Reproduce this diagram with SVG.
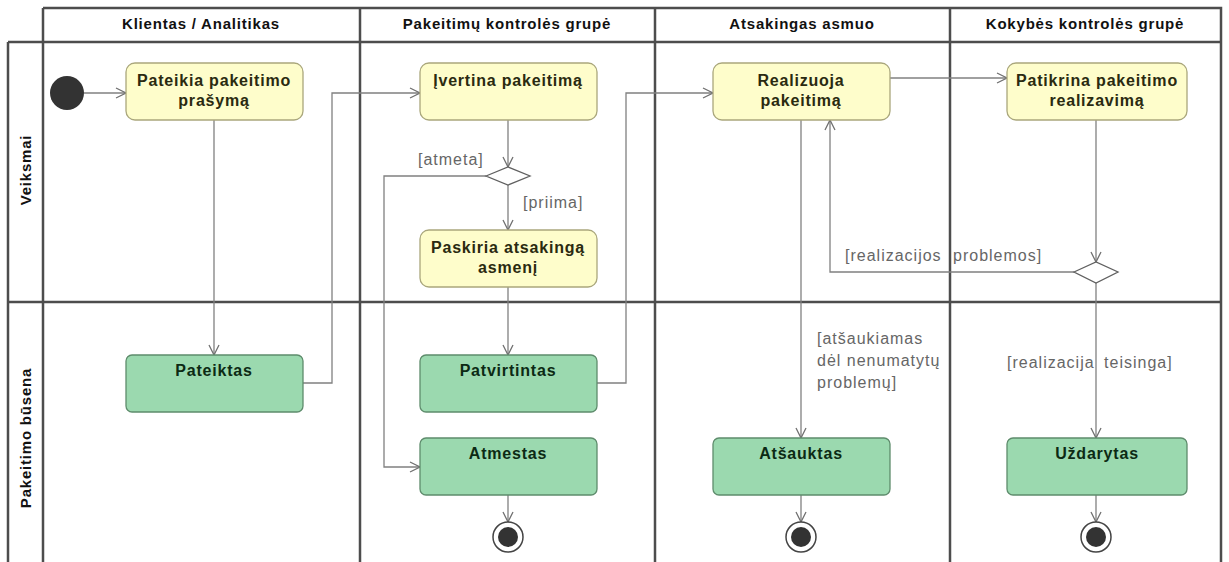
<svg xmlns="http://www.w3.org/2000/svg" width="1229" height="562" viewBox="0 0 1229 562">
  <defs>
    <marker id="arr" viewBox="0 0 12 12" refX="11" refY="6" markerWidth="12" markerHeight="12" markerUnits="userSpaceOnUse" orient="auto">
      <path d="M1,1 L11,6 L1,11" fill="none" stroke="#707070" stroke-width="1.3"/>
    </marker>
  </defs>
  <style>
    .frame { stroke: #4d4d4d; stroke-width: 2.5; fill: none; }
    .hdr { font-family: "Liberation Sans", Arial, sans-serif; font-weight: bold; font-size: 15px; letter-spacing: 0.8px; fill: #111; text-anchor: middle; }
    .act rect { fill: #fefdcb; stroke: #aaa77c; stroke-width: 1.3; }
    .st rect { fill: #9bd9af; stroke: #5e8c6c; stroke-width: 1.3; }
    .act text { font-family: "Liberation Sans", Arial, sans-serif; font-weight: bold; font-size: 16px; letter-spacing: 0.8px; fill: #2a2a10; text-anchor: middle; }
    .st text { font-family: "Liberation Sans", Arial, sans-serif; font-weight: bold; font-size: 16px; letter-spacing: 0.8px; fill: #0c2a14; text-anchor: middle; }
    .edge { fill: none; stroke: #808080; stroke-width: 1.3; marker-end: url(#arr); }
    .lbl { font-family: "Liberation Sans", Arial, sans-serif; font-size: 16px; letter-spacing: 1px; fill: #666; }
    .dec { fill: #fff; stroke: #606060; stroke-width: 1.3; }
    .fin-o { fill: #fff; stroke: #444; stroke-width: 1.5; }
    .fin-i { fill: #333; }
  </style>

  <rect width="1229" height="562" fill="#fff"/>

  <!-- swimlane frame -->
  <g id="lanes">
    <path class="frame" d="M43,8 H1221 V562 M8,42 H1221 M8,42 V562 M43,8 V562 M8,302 H1221 M360,8 V562 M655,8 V562 M950,8 V562"/>
    <text class="hdr" x="201" y="29">Klientas / Analitikas</text>
    <text class="hdr" x="507" y="29">Pakeitimų kontrolės grupė</text>
    <text class="hdr" x="802" y="29">Atsakingas asmuo</text>
    <text class="hdr" x="1085" y="29">Kokybės kontrolės grupė</text>
    <text class="hdr" transform="translate(31,170) rotate(-90)">Veiksmai</text>
    <text class="hdr" transform="translate(31,438) rotate(-90)">Pakeitimo būsena</text>
  </g>

  <!-- connectors -->
  <g id="connectors">
    <path class="edge" d="M84,93 H126"/>
    <path class="edge" d="M214,120 V355"/>
    <path class="edge" d="M303,383 H332 V93 H420"/>
    <path class="edge" d="M508,120 V167"/>
    <path class="edge" d="M508,185 V230"/>
    <path class="edge" d="M486,176 H384 V467 H420"/>
    <path class="edge" d="M508,287 V355"/>
    <path class="edge" d="M597,383 H626 V93 H713"/>
    <path class="edge" d="M890,78 H1007"/>
    <path class="edge" d="M1096,120 V262"/>
    <path class="edge" d="M1074,272 H830 V120"/>
    <path class="edge" d="M1096,283 V438"/>
    <path class="edge" d="M801,120 V438"/>
    <path class="edge" d="M508,495 V522"/>
    <path class="edge" d="M801,495 V522"/>
    <path class="edge" d="M1096,495 V522"/>
    <text class="lbl" x="418" y="165">[atmeta]</text>
    <text class="lbl" x="523" y="208">[priima]</text>
    <text class="lbl" x="845" y="261" word-spacing="6">[realizacijos problemos]</text>
    <text class="lbl" x="1007" y="368" word-spacing="4">[realizacija teisinga]</text>
    <text class="lbl" x="817" y="344">[atšaukiamas</text>
    <text class="lbl" x="817" y="366">dėl nenumatytų</text>
    <text class="lbl" x="817" y="388">problemų]</text>
  </g>

  <!-- start -->
  <g id="start"><circle cx="67" cy="93" r="17" fill="#333"/></g>

  <!-- actions -->
  <g id="pateikia" class="act">
    <rect x="126" y="63" width="177" height="57" rx="9"/>
    <text x="214" y="86">Pateikia pakeitimo</text>
    <text x="214" y="106">prašymą</text>
  </g>
  <g id="ivertina" class="act">
    <rect x="420" y="63" width="177" height="57" rx="9"/>
    <text x="508" y="86">Įvertina pakeitimą</text>
  </g>
  <g id="paskiria" class="act">
    <rect x="420" y="230" width="177" height="57" rx="9"/>
    <text x="508" y="253">Paskiria atsakingą</text>
    <text x="508" y="273">asmenį</text>
  </g>
  <g id="realizuoja" class="act">
    <rect x="713" y="63" width="177" height="57" rx="9"/>
    <text x="801" y="86">Realizuoja</text>
    <text x="801" y="106">pakeitimą</text>
  </g>
  <g id="patikrina" class="act">
    <rect x="1007" y="63" width="180" height="57" rx="9"/>
    <text x="1097" y="86">Patikrina pakeitimo</text>
    <text x="1097" y="106">realizavimą</text>
  </g>

  <!-- decisions -->
  <g id="decision1"><path class="dec" d="M486,176 L508,167 L530,176 L508,185 Z"/></g>
  <g id="decision2"><path class="dec" d="M1074,272 L1096,262 L1118,272 L1096,283 Z"/></g>

  <!-- states -->
  <g id="pateiktas" class="st">
    <rect x="126" y="355" width="177" height="57" rx="6"/>
    <text x="214" y="376">Pateiktas</text>
  </g>
  <g id="patvirtintas" class="st">
    <rect x="420" y="355" width="177" height="57" rx="6"/>
    <text x="508" y="376">Patvirtintas</text>
  </g>
  <g id="atmestas" class="st">
    <rect x="420" y="438" width="177" height="57" rx="6"/>
    <text x="508" y="459">Atmestas</text>
  </g>
  <g id="atsauktas" class="st">
    <rect x="713" y="438" width="177" height="57" rx="6"/>
    <text x="801" y="459">Atšauktas</text>
  </g>
  <g id="uzdarytas" class="st">
    <rect x="1007" y="438" width="180" height="57" rx="6"/>
    <text x="1097" y="459">Uždarytas</text>
  </g>

  <!-- final nodes -->
  <g id="end1"><circle class="fin-o" cx="508" cy="537" r="15"/><circle class="fin-i" cx="508" cy="537" r="10"/></g>
  <g id="end2"><circle class="fin-o" cx="801" cy="537" r="15"/><circle class="fin-i" cx="801" cy="537" r="10"/></g>
  <g id="end3"><circle class="fin-o" cx="1096" cy="537" r="15"/><circle class="fin-i" cx="1096" cy="537" r="10"/></g>
</svg>
